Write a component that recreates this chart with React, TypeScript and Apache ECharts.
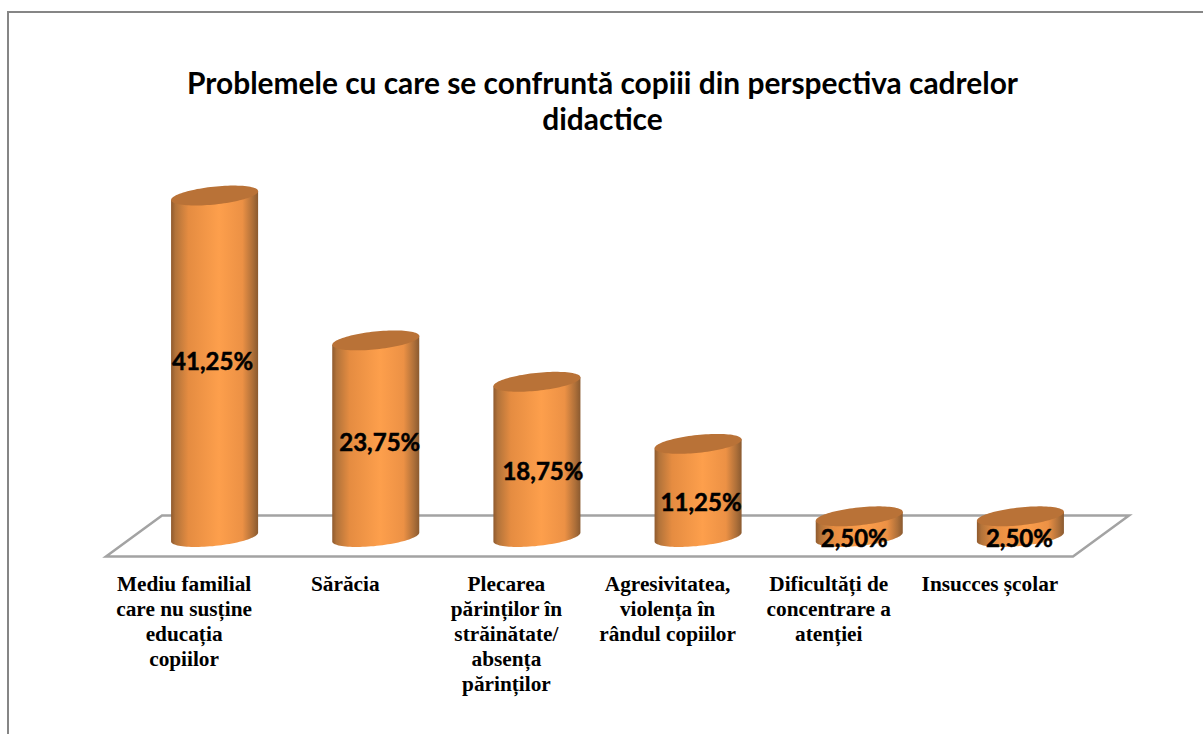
import React, { useEffect, useRef } from "react";
import * as echarts from "echarts";

const titleLines = [
  "Problemele cu care se confruntă copiii din perspectiva cadrelor",
  "didactice",
];
const categories = [
  "Mediu familial\ncare nu susține\neducația\ncopiilor",
  "Sărăcia",
  "Plecarea\npărinților în\nstrăinătate/\nabsența\npărinților",
  "Agresivitatea,\nviolența în\nrândul copiilor",
  "Dificultăți de\nconcentrare a\natenției",
  "Insucces școlar",
];
const values = [41.25, 23.75, 18.75, 11.25, 2.5, 2.5];
const valueLabels = ["41,25%", "23,75%", "18,75%", "11,25%", "2,50%", "2,50%"];
// hand-placed label nudges relative to the middle of each cylinder
const labelNudgeX = [-2, 4, 6, 3, -5, -1];
const labelNudgeY = [-6, 3, 11, 11, 11, 11];

const DEPTH_X = 56;
const DEPTH_Y = 41;
const BAR_LIFT = 19.5;
const TILT = (6 * Math.PI) / 180;
const RY = 8.9;
const STEPS = 48;

function ellipsePoint(cx: number, cy: number, rx: number, t: number) {
  return [
    cx + rx * Math.cos(t) * Math.cos(TILT) + RY * Math.sin(t) * Math.sin(TILT),
    cy - rx * Math.cos(t) * Math.sin(TILT) + RY * Math.sin(t) * Math.cos(TILT),
  ];
}

function renderFloor(params: any, api: any) {
  const cs = params.coordSys;
  const y = api.coord([0, 0])[1];
  const l = cs.x;
  const r = cs.x + cs.width;
  return {
    type: "polygon",
    shape: {
      points: [
        [l, y],
        [r, y],
        [r + DEPTH_X, y - DEPTH_Y],
        [l + DEPTH_X, y - DEPTH_Y],
      ],
    },
    style: { fill: "none", stroke: "#a3a3a3", lineWidth: 2.5 },
    silent: true,
  };
}

function renderCylinder(params: any, api: any) {
  const i = api.value(0);
  const v = api.value(1);
  const base = api.coord([i, 0]);
  const top = api.coord([i, v]);
  const w = api.size([1, 0])[0] * 0.54;
  const cx = base[0] + DEPTH_X / 2;
  const by = base[1] - BAR_LIFT;
  const ty = top[1] - BAR_LIFT;
  const rx = w / 2 / Math.cos(TILT);

  const bodyPoints: number[][] = [ellipsePoint(cx, ty, rx, Math.PI)];
  for (let s = 0; s <= STEPS; s++) {
    bodyPoints.push(ellipsePoint(cx, by, rx, Math.PI - (Math.PI * s) / STEPS));
  }
  bodyPoints.push(ellipsePoint(cx, ty, rx, 0));
  const lidPoints: number[][] = [];
  for (let s = 0; s < STEPS * 2; s++) {
    lidPoints.push(ellipsePoint(cx, ty, rx, (Math.PI * s) / STEPS));
  }
  return {
    type: "group",
    children: [
      {
        type: "polygon",
        shape: { points: bodyPoints },
        style: {
          fill: new echarts.graphic.LinearGradient(0, 0, 1, 0, [
            { offset: 0, color: "#8f5a2e" },
            { offset: 0.05, color: "#b2733a" },
            { offset: 0.2, color: "#e58c41" },
            { offset: 0.55, color: "#fd9f4c" },
            { offset: 0.82, color: "#ec9145" },
            { offset: 0.94, color: "#ad6f39" },
            { offset: 1, color: "#8a5a30" },
          ]),
        },
      },
      {
        type: "polygon",
        shape: { points: lidPoints },
        style: { fill: "#b97237" },
      },
      {
        type: "text",
        z2: 10,
        style: {
          text: valueLabels[i],
          x: cx + labelNudgeX[i],
          y: (by + ty) / 2 + labelNudgeY[i],
          align: "center",
          verticalAlign: "middle",
          fill: "#000000",
          stroke: "#000000",
          lineWidth: 0.5,
          font: "bold 24px Lato",
        },
      },
    ],
  };
}

export default function App() {
  const ref = useRef<HTMLDivElement>(null);
  useEffect(() => {
    document.body.style.background = "#ffffff";
    const chart = echarts.init(ref.current!, null, { renderer: "svg" });
    chart.setOption({
      animation: false,
      backgroundColor: "#ffffff",
      title: {
        text: titleLines.join("\n"),
        left: 597.5,
        top: 59,
        textAlign: "center",
        textStyle: {
          fontFamily: "Lato",
          fontWeight: "bold",
          fontSize: 29.9,
          lineHeight: 36,
          color: "#000000",
        },
      },
      graphic: [
        {
          type: "polyline",
          shape: { points: [[8, 734], [8, 12], [1203, 12]] },
          style: { fill: "none", stroke: "#868686", lineWidth: 2 },
          silent: true,
        },
      ],
      grid: { left: 106, width: 967, top: 184, height: 372.5 },
      xAxis: {
        type: "category",
        data: categories,
        axisLine: { show: false },
        axisTick: { show: false },
        axisLabel: {
          interval: 0,
          margin: 15,
          padding: [0, 5, 0, 0],
          fontFamily: "Liberation Serif",
          fontWeight: "bold",
          fontSize: 21.3,
          lineHeight: 25,
          color: "#000000",
          align: "center",
          verticalAlign: "top",
        },
      },
      yAxis: { type: "value", min: 0, max: 45, show: false },
      series: [
        {
          type: "custom",
          silent: true,
          z: 1,
          data: [[0, 0]],
          encode: { x: 0, y: 1 },
          renderItem: renderFloor,
        },
        {
          type: "custom",
          silent: true,
          z: 2,
          data: values.map((v, i) => [i, v]),
          encode: { x: 0, y: 1 },
          renderItem: renderCylinder,
        },
      ],
    });
    return () => chart.dispose();
  }, []);
  return (
    <div
      ref={ref}
      style={{ position: "absolute", left: 0, top: 0, width: 1203, height: 734 }}
    />
  );
}
